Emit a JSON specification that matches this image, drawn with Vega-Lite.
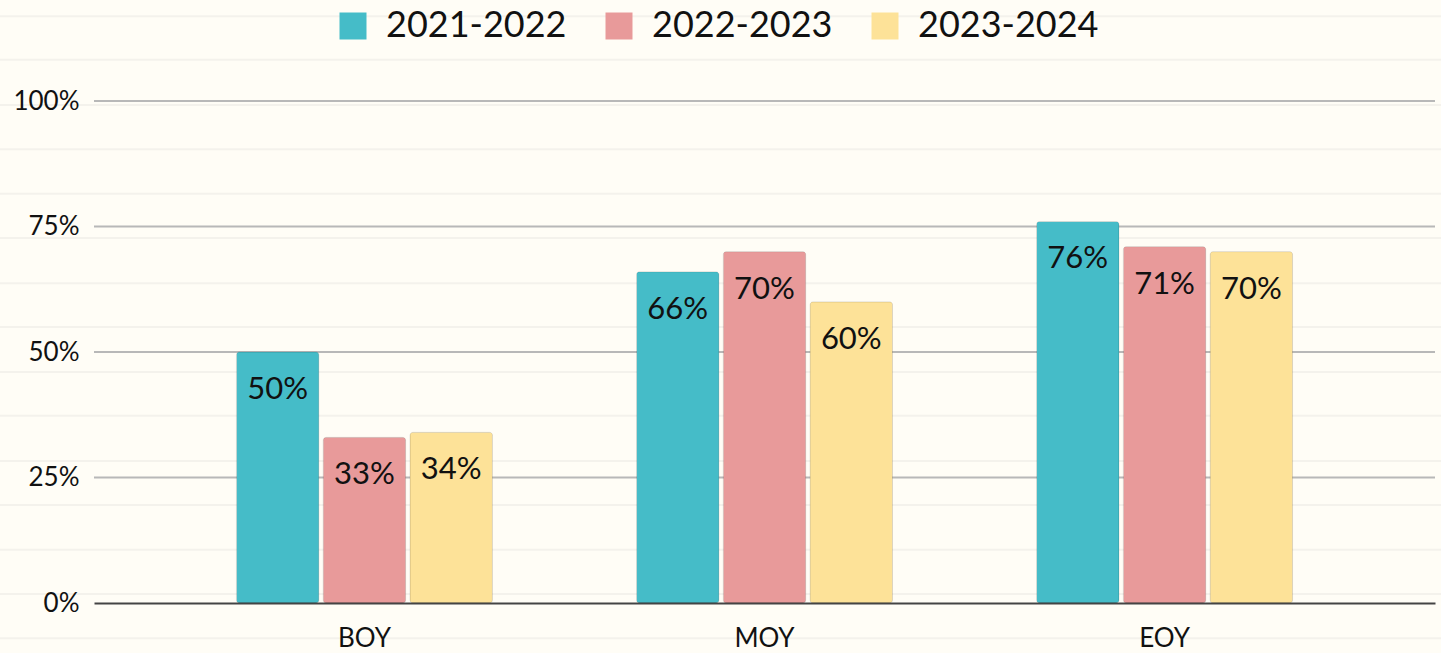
{
"$schema":"https://vega.github.io/schema/vega-lite/v6.json",
"width":1341,"height":502,
"autosize":{"type":"none"},
"padding":{"left":94,"top":101,"right":6,"bottom":50},
"background":"#FFFDF6",
"config":{"view":{"stroke":null},"font":"Lato"},
"datasets":{
"bars":[
{"period":"BOY","year":"2021-2022","share":0.50},
{"period":"BOY","year":"2022-2023","share":0.33},
{"period":"BOY","year":"2023-2024","share":0.34},
{"period":"MOY","year":"2021-2022","share":0.66},
{"period":"MOY","year":"2022-2023","share":0.70},
{"period":"MOY","year":"2023-2024","share":0.60},
{"period":"EOY","year":"2021-2022","share":0.76},
{"period":"EOY","year":"2022-2023","share":0.71},
{"period":"EOY","year":"2023-2024","share":0.70}
],
"paper":[{"line":1.169},{"line":1.082},{"line":0.992},{"line":0.904},{"line":0.815},{"line":0.727},{"line":0.637},{"line":0.55},{"line":0.46},{"line":0.373},{"line":0.283},{"line":0.195},{"line":0.106},{"line":0.018},{"line":-0.07}],
"grid":[{"tick":0.25},{"tick":0.5},{"tick":0.75},{"tick":1}]
},
"layer":[
{"data":{"name":"paper"},"mark":{"type":"rule","color":"#F4F2EC","strokeWidth":2,"clip":false},
"encoding":{"y":{"field":"line","type":"quantitative","title":null,"scale":{"domain":[0,1],"nice":false},
"axis":{"values":[0,0.25,0.5,0.75,1],"format":".0%","labelFontSize":26,"labelColor":"#111111","labelPadding":15,"ticks":false,"domain":false,"grid":false,"zindex":1}},"x":{"value":-94},"x2":{"value":1347}}},
{"data":{"name":"grid"},"mark":{"type":"rule","color":"#B8B8B8","strokeWidth":2},
"encoding":{"y":{"field":"tick","type":"quantitative"}}},
{"data":{"name":"bars"},"mark":{"type":"bar","cornerRadius":3,"stroke":"#00000018","strokeWidth":1},
"encoding":{
"x":{"field":"period","type":"nominal","sort":["BOY","MOY","EOY"],"title":null,
"scale":{"paddingInner":0.36,"paddingOuter":0.356},
"axis":{"labelAngle":0,"labelFontSize":26,"labelColor":"#111111","labelPadding":35,"ticks":false,"domainColor":"#444444","domainWidth":2,"zindex":1,"labelBaseline":"middle"}},
"xOffset":{"field":"year","type":"nominal","scale":{"paddingInner":0.05}},
"y":{"field":"share","type":"quantitative"},
"color":{"field":"year","type":"nominal","title":null,
"scale":{"domain":["2021-2022","2022-2023","2023-2024"],"range":["#45BCC8","#E89A9A","#FDE298"]},
"legend":{"orient":"none","direction":"horizontal","legendX":241,"legendY":-93,"symbolType":"square","symbolSize":729,"symbolStrokeWidth":0,"labelFontSize":36,"labelLimit":300,"labelColor":"#111111","labelOffset":15,"columnPadding":34,"symbolOpacity":1}}
}},
{"data":{"name":"bars"},"mark":{"type":"text","fontSize":31,"color":"#111111","baseline":"middle","dy":38},
"encoding":{
"x":{"field":"period","type":"nominal","sort":["BOY","MOY","EOY"]},
"xOffset":{"field":"year","type":"nominal"},
"y":{"field":"share","type":"quantitative"},
"text":{"field":"share","type":"quantitative","format":".0%"}
}}
]
}
